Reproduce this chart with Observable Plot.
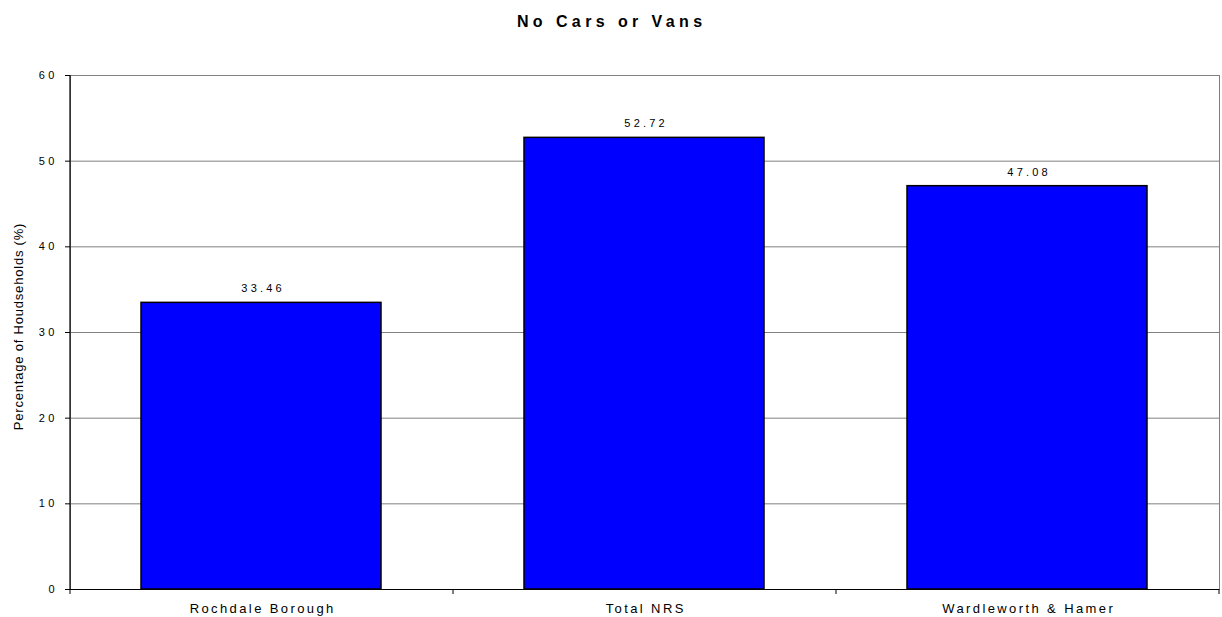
<!DOCTYPE html>
<html>
<head>
<meta charset="utf-8">
<script src="https://cdn.jsdelivr.net/npm/d3@7"></script>
<script src="https://cdn.jsdelivr.net/npm/@observablehq/plot@0.6"></script>
<style>
  html, body { margin: 0; padding: 0; background: #fff; }
</style>
</head>
<body>
<div id="chart"></div>
<script>
const categories = ["Rochdale Borough", "Total NRS", "Wardleworth & Hamer"];
const values = [33.46, 52.72, 47.08];
const yTicks = [0, 10, 20, 30, 40, 50, 60];
const title = "No Cars or Vans";
const yLabel = "Percentage of Houdseholds (%)";

const data = categories.map((c, i) => ({category: c, value: values[i]}));

const W = 1222, H = 617;
const mL = 70, mR = 3, mT = 75, mB = 28;
const step = (W - mL - mR) / categories.length;
const pad = 0.373;

const font = "'Liberation Sans', Arial, sans-serif";

const chart = Plot.plot({
  width: W,
  height: H,
  marginLeft: mL,
  marginRight: mR,
  marginTop: mT,
  marginBottom: mB,
  style: {fontFamily: font, fontSize: "11px", background: "#fff", color: "#000"},
  x: {type: "band", domain: categories, paddingInner: pad, paddingOuter: pad / 2, label: null},
  y: {domain: [0, 60], label: null},
  marks: [
    Plot.gridY(yTicks.filter(d => d > 0), {stroke: "#808080", strokeOpacity: 1}),
    Plot.frame({stroke: "#808080"}),
    Plot.barY(data, {x: "category", y: "value", fill: "#0000ff", stroke: "#000", strokeWidth: 1.5}),
    Plot.ruleY([0], {stroke: "#000", strokeWidth: 1.2}),
    Plot.ruleX([categories[0]], {x: d => d, dx: -step / 2, stroke: "#000", strokeWidth: 1.2}),
    // boundary tick marks below the x axis at band edges
    Plot.ruleX(categories, {x: d => d, y1: 0, y2: 0, insetBottom: -5, dx: -step / 2, stroke: "#000"}),
    Plot.ruleX([categories[categories.length - 1]], {x: d => d, y1: 0, y2: 0, insetBottom: -5, dx: step / 2, stroke: "#000"}),
    Plot.axisY({ticks: yTicks, tickSize: 5, tickPadding: 7.5, label: null, fontSize: 11}),
    Plot.axisX({tickSize: 0, tickPadding: 14, label: null, fontSize: 13, dx: 1.2}),
    Plot.text(data, {x: "category", y: "value", text: d => d.value.toFixed(2), dy: -14, dx: 1.6, fontSize: 11}),
    Plot.text([title], {frameAnchor: "top", lineAnchor: "middle", dy: -54, dx: -33.5 + 0.2, text: d => d, fontWeight: "bold", fontSize: 16}),
    Plot.text([yLabel], {frameAnchor: "left", textAnchor: "middle", dx: -51.5, dy: -6, rotate: -90, text: d => d, fontSize: 13})
  ]
});

const svg = d3.select(chart);
svg.selectAll('g[aria-label="y-axis tick label"]').style("letter-spacing", "3.5px");
svg.selectAll('g[aria-label="x-axis tick label"]').style("letter-spacing", "2.4px");
const valueTexts = new Set(values.map(v => v.toFixed(2)));
svg.selectAll("text").filter(function() { return valueTexts.has(this.textContent); }).style("letter-spacing", "3.2px");
svg.selectAll("text").filter(function() { return this.textContent === title; }).style("letter-spacing", "4.4px");
svg.selectAll("text").filter(function() { return this.textContent === yLabel; }).style("letter-spacing", "0.8px");

document.getElementById("chart").append(chart);
</script>
</body>
</html>
